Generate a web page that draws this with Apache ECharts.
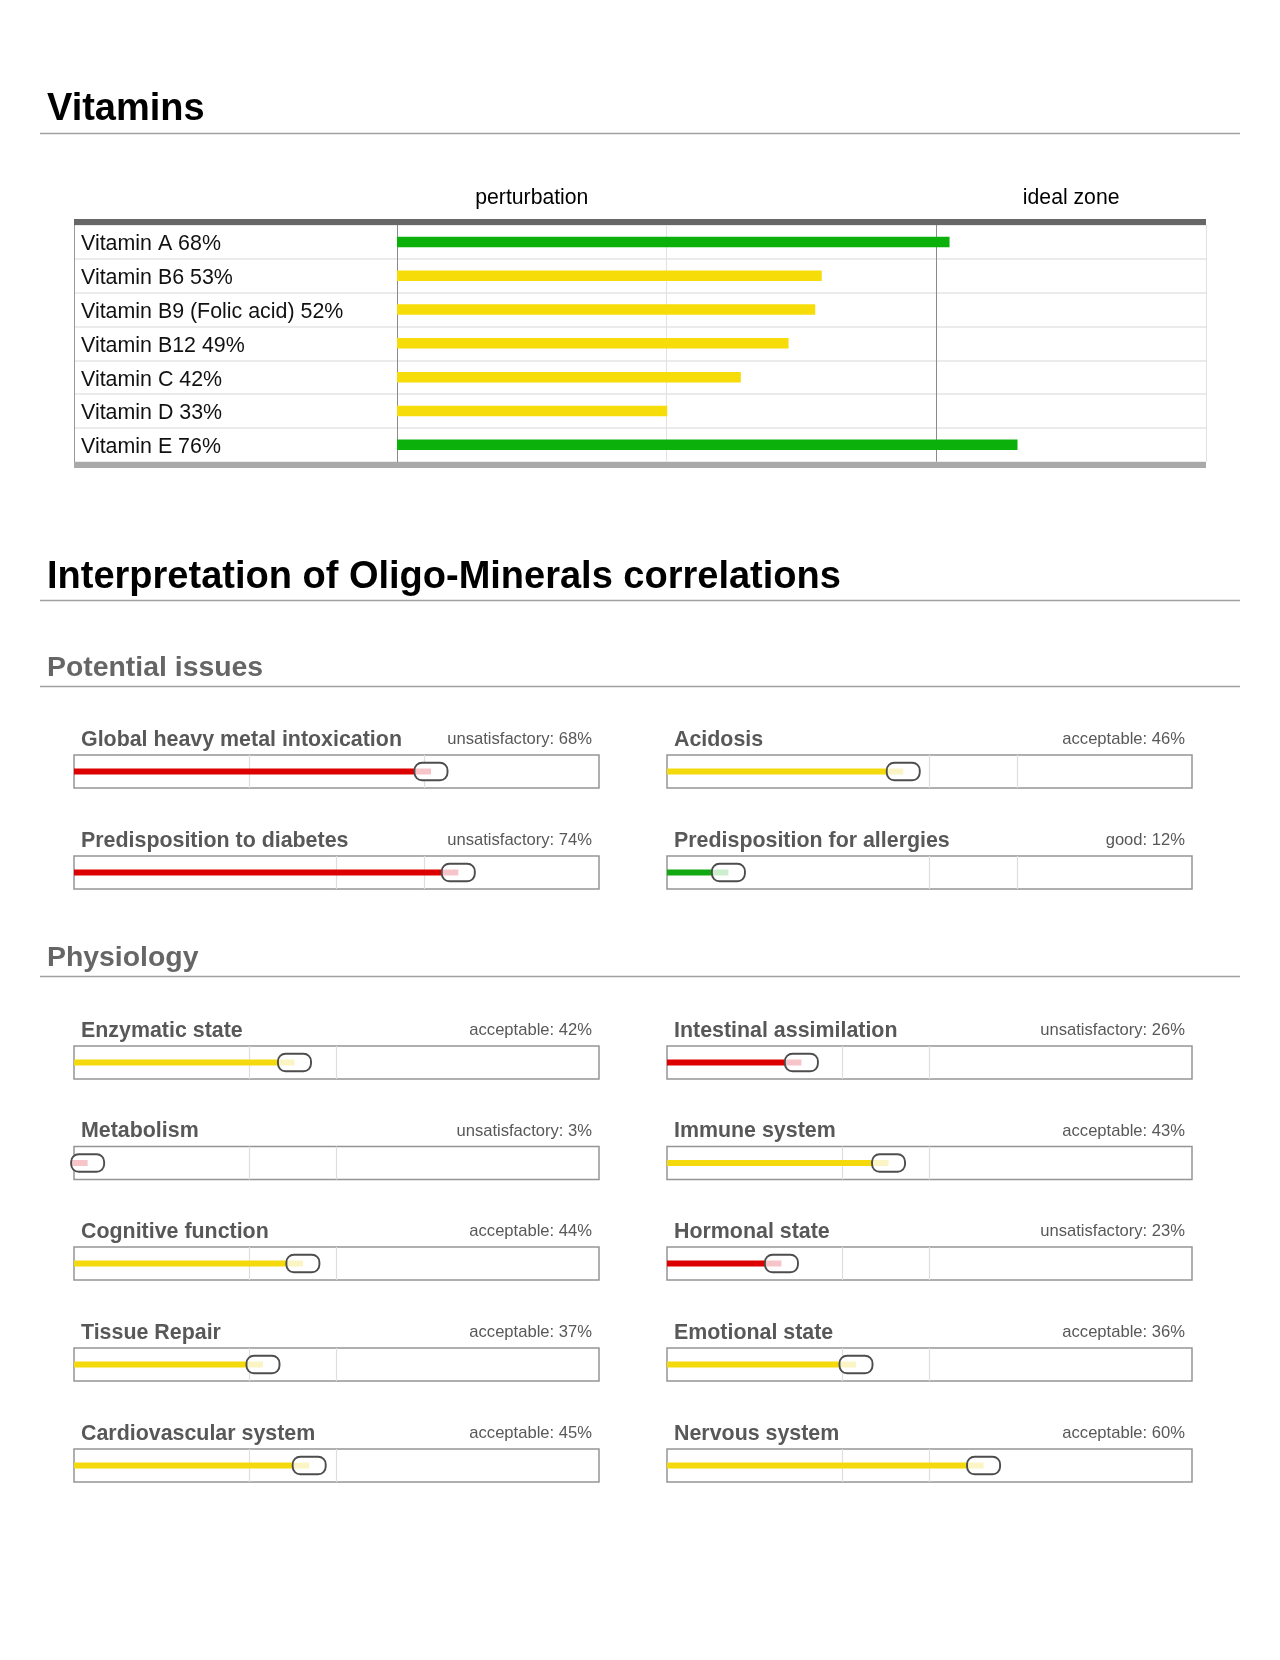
<!DOCTYPE html>
<html><head><meta charset="utf-8">
<script src="https://cdn.jsdelivr.net/npm/echarts@6/dist/echarts.min.js"></script>
<style>html,body{margin:0;padding:0;background:#fff}#c{width:1280px;height:1660px}</style>
</head><body><div id="c"></div>
<script>
// ---------- data ----------
const vitaminNames = ['Vitamin A', 'Vitamin B6', 'Vitamin B9 (Folic acid)', 'Vitamin B12', 'Vitamin C', 'Vitamin D', 'Vitamin E'];
const vitaminPercents = [68, 53, 52, 49, 42, 33, 76];            // printed in the labels
const vitaminBarValues = [68.3, 52.5, 51.7, 48.4, 42.5, 33.4, 76.7]; // bar lengths as drawn
const vitaminStatus = ['good', 'acceptable', 'acceptable', 'acceptable', 'acceptable', 'acceptable', 'good'];
const vitaminZones = ['perturbation', '', 'ideal zone'];

const issueNames = ['Global heavy metal intoxication', 'Acidosis', 'Predisposition to diabetes', 'Predisposition for allergies'];
const issuePercents = [68, 46, 74, 12];
const issueMarkers = [68, 45, 73.2, 11.7];
const issueStatus = ['unsatisfactory', 'acceptable', 'unsatisfactory', 'good'];
const issueThresholds = [[33.3, 66.7], [50, 66.7], [50, 66.7], [50, 66.7]];

const physioNames = ['Enzymatic state', 'Intestinal assimilation', 'Metabolism', 'Immune system', 'Cognitive function',
  'Hormonal state', 'Tissue Repair', 'Emotional state', 'Cardiovascular system', 'Nervous system'];
const physioPercents = [42, 26, 3, 43, 44, 23, 37, 36, 45, 60];
const physioMarkers = [42, 25.6, 2.6, 42.2, 43.6, 21.8, 36, 36, 44.8, 60.3];
const physioStatus = ['acceptable', 'unsatisfactory', 'unsatisfactory', 'acceptable', 'acceptable',
  'unsatisfactory', 'acceptable', 'acceptable', 'acceptable', 'acceptable'];
const physioThresholds = [[33.3, 50], [33.3, 50], [33.3, 50], [33.3, 50], [33.3, 50],
  [33.3, 50], [33.3, 50], [33.3, 50], [33.3, 50], [33.3, 50]];

// ---------- styling ----------
const FONT = '"Liberation Sans", Arial, Helvetica, sans-serif';
const vitColors = { good: '#0bb00b', acceptable: '#f6dc08' };
const solidColors = { good: '#12a812', acceptable: '#f4da0c', unsatisfactory: '#dc0000' };
const paleColors = { good: '#cdeecd', acceptable: '#fbf4c4', unsatisfactory: '#f6c4c9' };

const grids = [], xAxes = [], yAxes = [], series = [], graphics = [];

function text(str, x, y, size, weight, color, align) {
  graphics.push({ type: 'text', x: x, y: y, silent: true,
    style: { text: str, font: weight + ' ' + size + 'px ' + FONT, fill: color,
      textAlign: align || 'left', textVerticalAlign: 'middle' } });
}
function rule(y) {
  graphics.push({ type: 'line', silent: true, shape: { x1: 40, y1: y, x2: 1240, y2: y },
    style: { stroke: '#a0a0a0', lineWidth: 1.5 } });
}

// ---------- headings ----------
text('Vitamins', 47, 110, 38, 'bold', '#000');
rule(133.5);
text('Interpretation of Oligo-Minerals correlations', 47, 578, 38, 'bold', '#000');
rule(600.5);
text('Potential issues', 47, 668.5, 28.4, 'bold', '#666');
rule(686.5);
text('Physiology', 47, 958.5, 28.4, 'bold', '#666');
rule(976.5);

// ---------- vitamins table ----------
const vTop = 225, vH = 236.7;
const vitaminLabels = vitaminNames.map((n, i) => n + ' ' + vitaminPercents[i] + '%');
const thick = (c) => ({ show: true, lineStyle: { color: c, width: 6, cap: 'butt' } });
grids.push({ left: 74, top: vTop, width: 323, height: vH });
grids.push({ left: 397, top: vTop, width: 809, height: vH });
xAxes.push({ gridIndex: 0, type: 'value', min: 0, max: 1, position: 'bottom', offset: 3,
  axisLine: thick('#a9a9a9'), axisTick: { show: false }, axisLabel: { show: false }, splitLine: { show: false } });
xAxes.push({ gridIndex: 0, type: 'value', min: 0, max: 1, position: 'top', offset: 3,
  axisLine: thick('#676767'), axisTick: { show: false }, axisLabel: { show: false }, splitLine: { show: false } });
xAxes.push({ gridIndex: 1, type: 'value', min: 0, max: 100, interval: 100 / 3, position: 'bottom', offset: 3,
  axisLine: thick('#a9a9a9'), axisTick: { show: false }, axisLabel: { show: false },
  splitLine: { show: true, lineStyle: { color: ['#8a8a8a', '#e2e2e2', '#8a8a8a', '#e2e2e2'], width: 1 } } });
xAxes.push({ gridIndex: 1, type: 'category', data: vitaminZones, position: 'top', offset: 3,
  axisLine: thick('#676767'), axisTick: { show: false }, splitLine: { show: false },
  axisLabel: { interval: 0, margin: 24, verticalAlign: 'middle', fontSize: 21.2, color: '#000', fontFamily: FONT } });
yAxes.push({ gridIndex: 0, type: 'category', inverse: true, data: vitaminLabels,
  axisLine: { show: true, lineStyle: { color: '#999', width: 1 } }, axisTick: { show: false },
  axisLabel: { inside: true, margin: 7, interval: 0,
    formatter: (v) => '{t|' + v + '}',
    rich: { t: { fontSize: 21.4, color: '#111', fontFamily: FONT, padding: [5, 0, 0, 0] } } },
  splitLine: { show: true, interval: 0, lineStyle: { color: '#e4e4e4', width: 1.5 } } });
yAxes.push({ gridIndex: 1, type: 'category', inverse: true, data: vitaminNames,
  axisLine: { show: true, lineStyle: { color: '#8a8a8a', width: 1 } }, axisTick: { show: false },
  axisLabel: { show: false },
  splitLine: { show: true, interval: 0, lineStyle: { color: '#e4e4e4', width: 1.5 } } });
series.push({ type: 'bar', xAxisIndex: 2, yAxisIndex: 1, barWidth: 10.5, silent: true, z: 3,
  data: vitaminBarValues.map((v, i) => ({ value: v, itemStyle: { color: vitColors[vitaminStatus[i]] } })) });

// ---------- score cards ----------
function addCard(name, pct, marker, status, thr, bx, by) {
  const gi = grids.length, xi = xAxes.length, yi = yAxes.length;
  const W = 525, H = 33;
  grids.push({ left: bx, top: by, width: W, height: H, show: true,
    borderColor: '#959595', borderWidth: 1.5, backgroundColor: '#fff' });
  xAxes.push({ gridIndex: gi, type: 'value', min: 0, max: 100, show: false });
  yAxes.push({ gridIndex: gi, type: 'value', min: 0, max: 1, show: false });
  const solid = solidColors[status], pale = paleColors[status];
  series.push({ type: 'custom', xAxisIndex: xi, yAxisIndex: yi, clip: false, silent: true, z: 3,
    data: [[marker, 0.5]],
    markLine: { silent: true, symbol: 'none', z: 1, label: { show: false },
      lineStyle: { color: '#dedede', type: 'solid', width: 1.2 },
      data: thr.map(t => ({ xAxis: t })) },
    renderItem: function (params, api) {
      const p0 = api.coord([0, api.value(1)]);
      const p = api.coord([api.value(0), api.value(1)]);
      const bh = 6, mw = 33, mh = 17.5;
      return { type: 'group', children: [
        { type: 'rect', shape: { x: p0[0], y: p[1] - bh / 2, width: Math.max(0, p[0] - p0[0]), height: bh }, style: { fill: solid } },
        { type: 'rect', shape: { x: p[0] - mw / 2, y: p[1] - mh / 2, width: mw, height: mh, r: 7.5 }, style: { fill: '#fff' } },
        { type: 'rect', shape: { x: p[0] - mw / 2 + 1, y: p[1] - bh / 2, width: mw / 2 - 1, height: bh }, style: { fill: pale } },
        { type: 'rect', shape: { x: p[0] - mw / 2, y: p[1] - mh / 2, width: mw, height: mh, r: 7.5 },
          style: { fill: 'none', stroke: '#4d4d4d', lineWidth: 1.9 } }
      ] };
    } });
  text(name, bx + 7, by - 15.2, 21.4, 'bold', '#585858');
  text(status + ': ' + pct + '%', bx + W - 7, by - 15.2, 16.6, 'normal', '#585858', 'right');
}
const colX = [74, 667];
const issueTops = [755, 856];
issueNames.forEach((n, i) => addCard(n, issuePercents[i], issueMarkers[i], issueStatus[i], issueThresholds[i], colX[i % 2], issueTops[Math.floor(i / 2)]));
const physioTops = [1046, 1146.5, 1247, 1348, 1449];
physioNames.forEach((n, i) => addCard(n, physioPercents[i], physioMarkers[i], physioStatus[i], physioThresholds[i], colX[i % 2], physioTops[Math.floor(i / 2)]));

const chart = echarts.init(document.getElementById('c'), null, { renderer: 'canvas' });
chart.setOption({
  animation: false,
  backgroundColor: '#fff',
  textStyle: { fontFamily: FONT },
  grid: grids, xAxis: xAxes, yAxis: yAxes, series: series, graphic: graphics
});
</script></body></html>
